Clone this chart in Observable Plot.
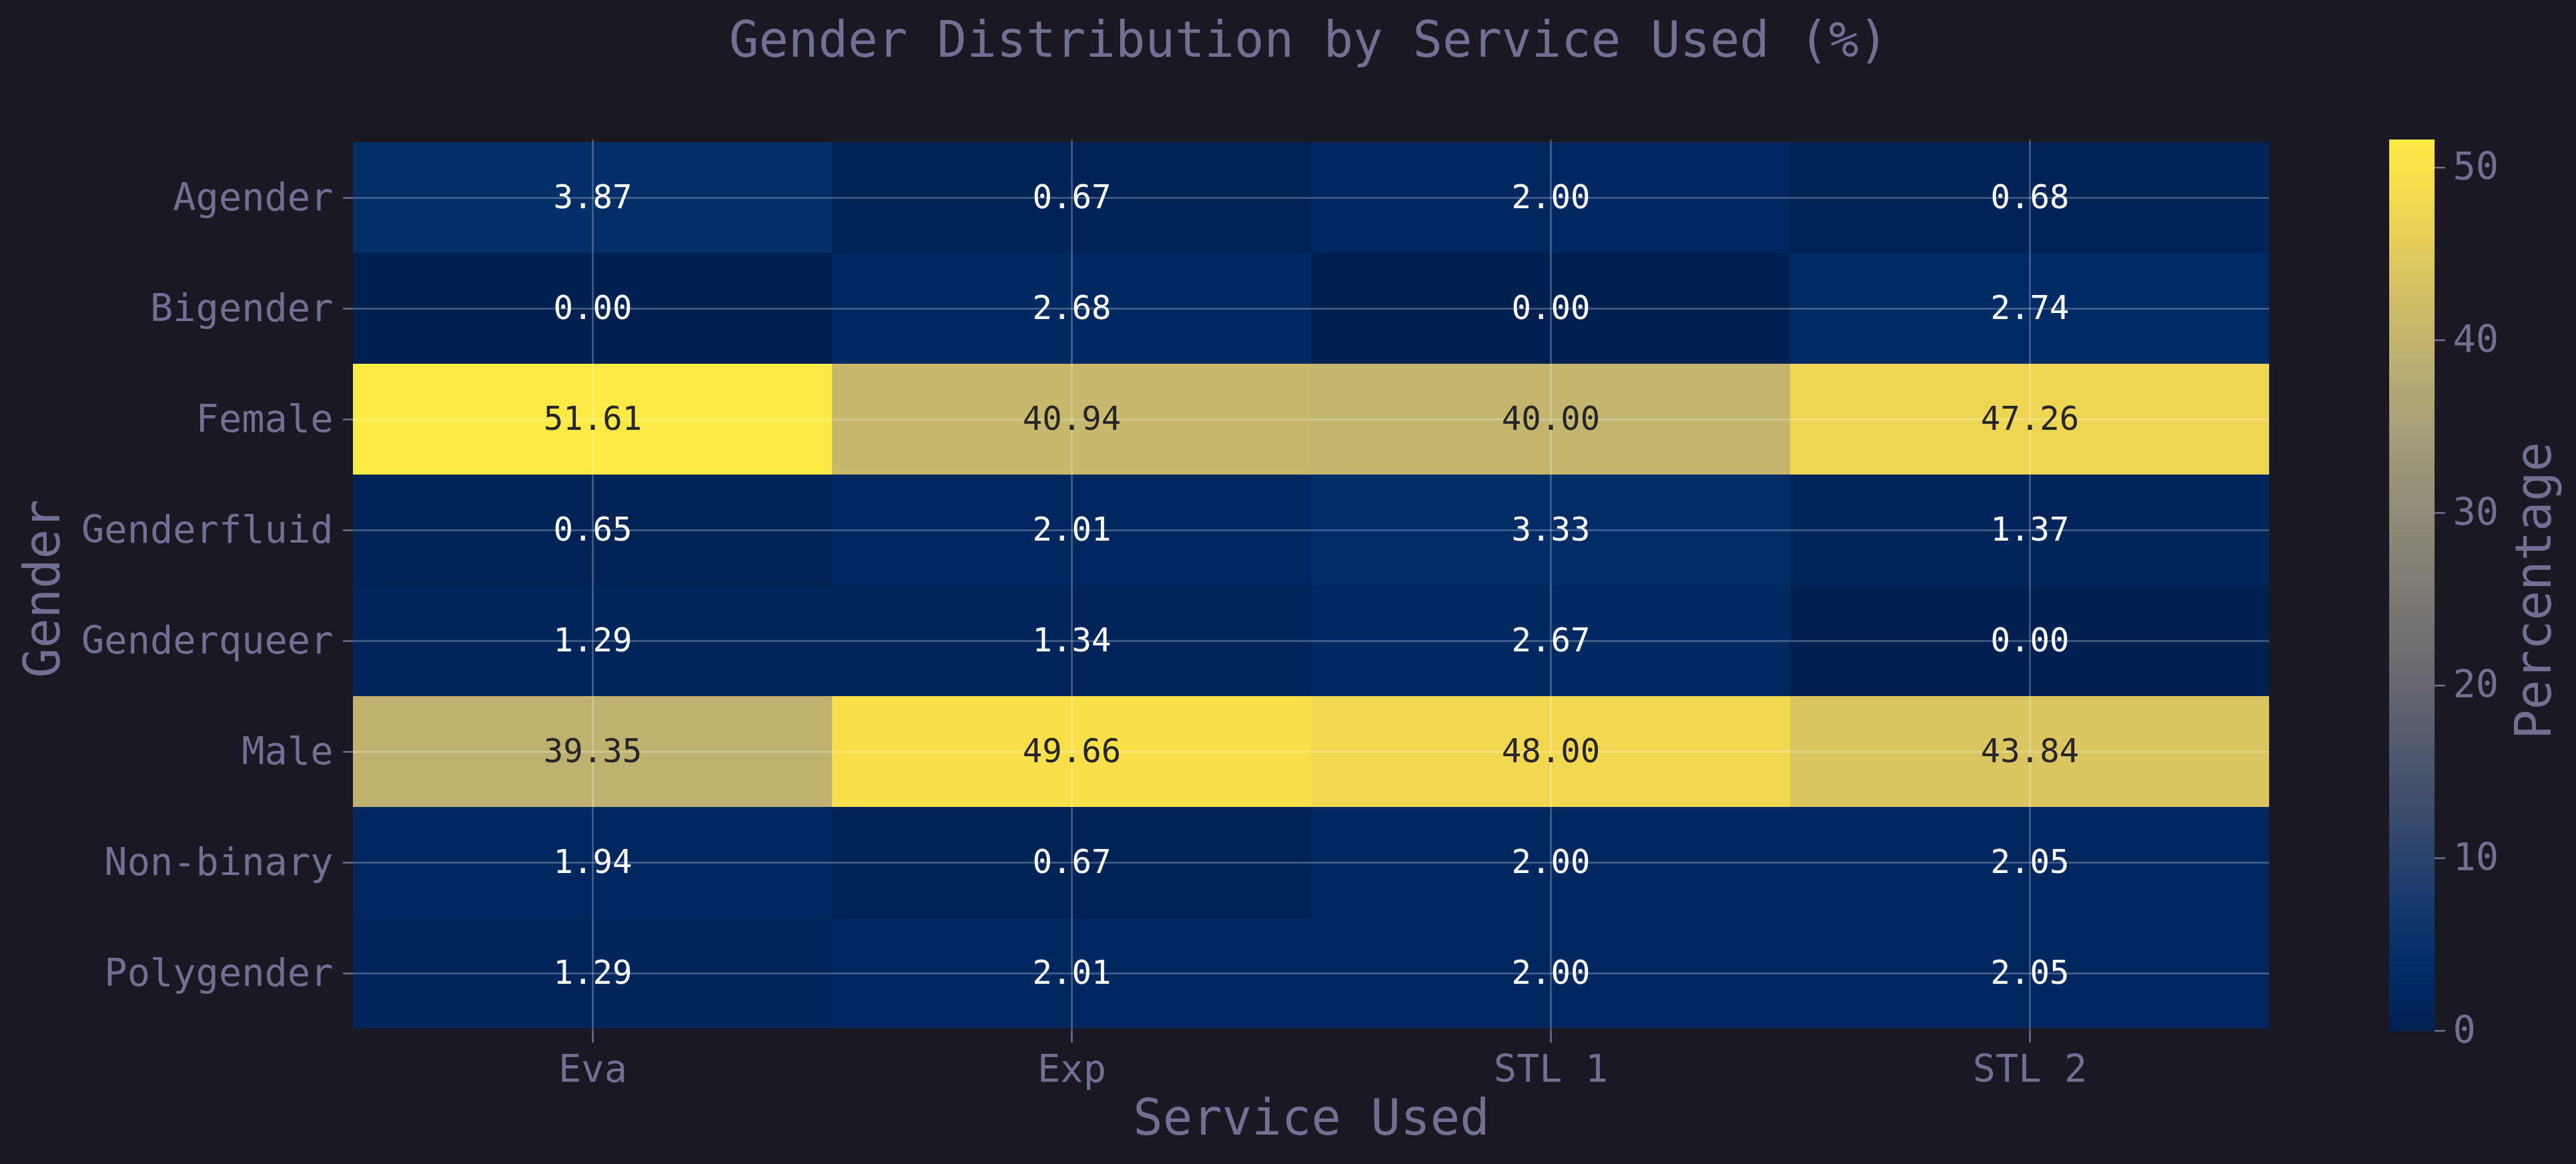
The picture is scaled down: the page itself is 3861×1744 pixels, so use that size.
<!DOCTYPE html>
<html>
<head>
<meta charset="utf-8">
<script src="https://cdn.jsdelivr.net/npm/d3@7"></script>
<script src="https://cdn.jsdelivr.net/npm/@observablehq/plot@0.6"></script>
<style>
  html, body { margin: 0; padding: 0; background: #1a1823; }
  #fig { position: relative; width: 3861px; height: 1744px; background: #1a1823; overflow: hidden; }
  #fig svg { position: absolute; left: 0; top: 0; }
</style>
</head>
<body>
<div id="fig"></div>
<script>
const services = ["Eva", "Exp", "STL 1", "STL 2"];
const genders = ["Agender", "Bigender", "Female", "Genderfluid", "Genderqueer", "Male", "Non-binary", "Polygender"];
const eva  = [3.87, 0.00, 51.61, 0.65, 1.29, 39.35, 1.94, 1.29];
const exp  = [0.67, 2.68, 40.94, 2.01, 1.34, 49.66, 0.67, 2.01];
const stl1 = [2.00, 0.00, 40.00, 3.33, 2.67, 48.00, 2.00, 2.00];
const stl2 = [0.68, 2.74, 47.26, 1.37, 0.00, 43.84, 2.05, 2.05];
const colorTicks = [0, 10, 20, 30, 40, 50];
const titleText = "Gender Distribution by Service Used (%)";
const xLabel = "Service Used";
const yLabel = "Gender";
const colorLabel = "Percentage";

const columns = [eva, exp, stl1, stl2];
const cells = [];
services.forEach((s, j) => genders.forEach((g, i) => cells.push({service: s, gender: g, value: columns[j][i]})));
const vmax = d3.max(cells, d => d.value);

const FG = "#736e94";
const FONT = "'DejaVu Sans Mono', monospace";
const W = 3861, H = 1744;

function lum(v) {
  const c = d3.rgb(d3.interpolateCividis(v / vmax));
  const f = x => { x /= 255; return x <= 0.03928 ? x / 12.92 : Math.pow((x + 0.055) / 1.055, 2.4); };
  return 0.2126 * f(c.r) + 0.7152 * f(c.g) + 0.0722 * f(c.b);
}

const main = Plot.plot({
  width: W, height: H,
  marginLeft: 529, marginRight: W - 3401, marginTop: 209, marginBottom: H - 1544,
  style: {background: "transparent", color: FG, fontFamily: FONT, fontSize: "57px"},
  x: {domain: services, padding: 0, label: null},
  y: {domain: genders, padding: 0, label: null},
  color: {type: "linear", scheme: "cividis", domain: [0, vmax]},
  marks: [
    Plot.cell(cells, {x: "service", y: "gender", fill: "value"}),
    Plot.gridX(services, {stroke: "#ffffff", strokeOpacity: 0.28, strokeWidth: 2.5}),
    Plot.gridY(genders, {stroke: "#ffffff", strokeOpacity: 0.28, strokeWidth: 2.5}),
    Plot.text(cells, {x: "service", y: "gender", text: d => d.value.toFixed(2),
      fill: d => lum(d.value) > 0.408 ? "#262626" : "#ffffff", fontSize: 49}),
    Plot.axisX({tickSize: 18, tickPadding: 18, fontSize: 57, color: FG, strokeWidth: 2.5, label: null}),
    Plot.axisY({tickSize: 15, tickPadding: 15, fontSize: 57, color: FG, strokeWidth: 2.5, label: null}),
    Plot.text([xLabel], {frameAnchor: "bottom", textAnchor: "middle", dy: 155, lineAnchor: "bottom", fontSize: 74, fill: FG}),
    Plot.text([yLabel], {frameAnchor: "left", textAnchor: "middle", dx: 88 - 529, dy: 5, rotate: -90, lineAnchor: "bottom", fontSize: 74, fill: FG}),
    Plot.text([titleText], {frameAnchor: "top", textAnchor: "middle", dx: -4, dy: 84 - 209, lineAnchor: "bottom", fontSize: 74, fill: FG})
  ]
});

const N = 400;
const stops = d3.range(N).map(i => ({y1: i / N * vmax, y2: (i + 1) / N * vmax, v: (i + 0.5) / N * vmax}));

const bar = Plot.plot({
  width: W, height: H,
  marginLeft: 3581, marginRight: W - 3648, marginTop: 209, marginBottom: H - 1544,
  style: {background: "transparent", color: FG, fontFamily: FONT, fontSize: "57px"},
  y: {domain: [0, vmax], label: null},
  color: {type: "linear", scheme: "cividis", domain: [0, vmax]},
  marks: [
    Plot.rect(stops, {y1: "y1", y2: "y2", fill: "v", shapeRendering: "crispEdges", inset: -0.5}),
    Plot.axisY({anchor: "right", ticks: colorTicks, tickSize: 16, tickPadding: 12, fontSize: 57, color: FG, strokeWidth: 2.5, label: null}),
    Plot.text([colorLabel], {frameAnchor: "right", textAnchor: "middle", dx: 3822 - 3648, dy: 8, rotate: -90, lineAnchor: "bottom", fontSize: 74, fill: FG})
  ]
});

const fig = document.getElementById("fig");
fig.appendChild(main);
fig.appendChild(bar);
</script>
</body>
</html>
